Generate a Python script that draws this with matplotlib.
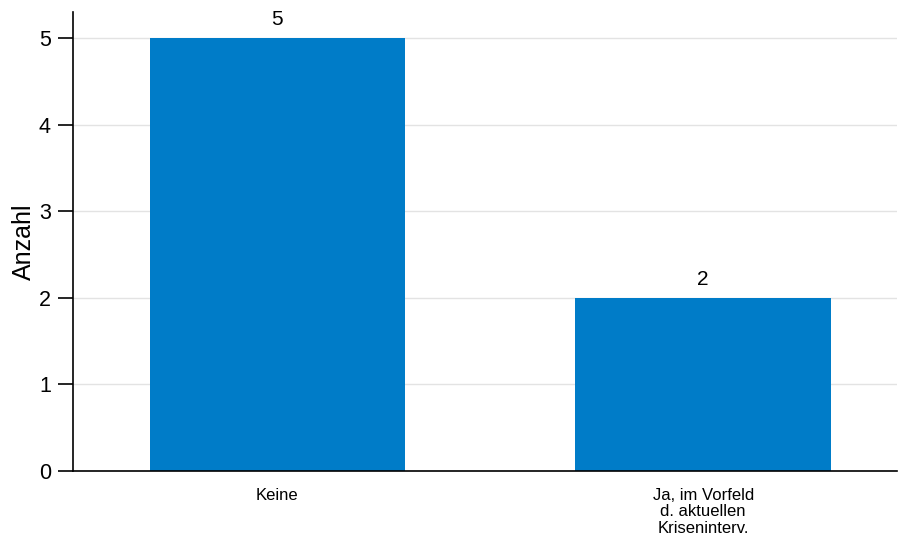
import matplotlib.pyplot as plt

plt.rcParams['font.family'] = ['Liberation Sans', 'DejaVu Sans']

categories = ["Keine", "Ja, im Vorfeld\nd. aktuellen\nKriseninterv."]
counts = [5, 2]

fig = plt.figure(figsize=(8.99, 5.42), dpi=100)
ax = fig.add_axes([73 / 899, 1 - 471 / 542, (897 - 73) / 899, (471 - 12) / 542])

x = list(range(len(categories)))
bars = ax.bar(x, counts, width=0.6, color="#007CC8", zorder=2)
for xi, v in zip(x, counts):
    ax.text(xi, v + 0.1, str(v), ha="center", va="bottom", fontsize=15)

ax.set_xlim(-0.48, 1.455)
ax.set_ylim(0, 5.3)
ax.set_yticks(range(6))
ax.set_xticks(x)
ax.set_xticklabels(categories, fontsize=12, linespacing=1.15)
ax.tick_params(axis="x", length=0, pad=12)
ax.tick_params(axis="y", length=11, width=1.2, labelsize=15.5, direction="out", pad=5)
ax.set_ylabel("Anzahl", fontsize=18, labelpad=2)
ax.grid(axis="y", color="#e3e3e3", linewidth=1, zorder=0)
ax.set_axisbelow(True)
for side in ["top", "right"]:
    ax.spines[side].set_visible(False)
for side in ["left", "bottom"]:
    ax.spines[side].set_linewidth(1.2)

fig.savefig("out.png", dpi=100)
